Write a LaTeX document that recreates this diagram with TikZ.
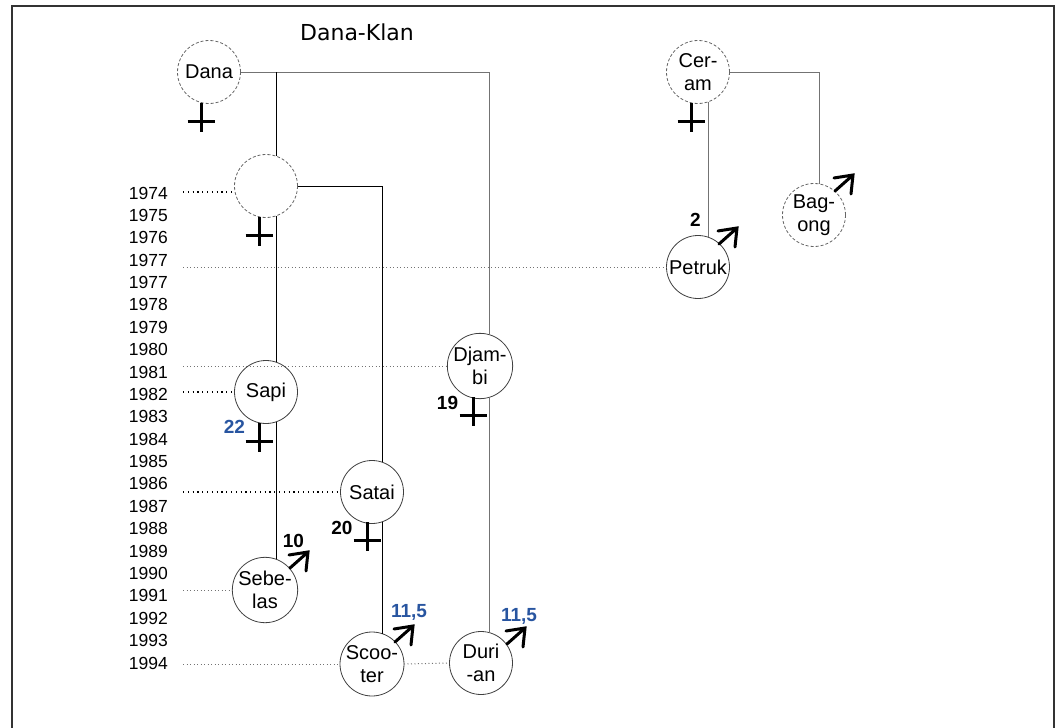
\documentclass[tikz,border=0pt]{standalone}
\usepackage{fontspec}
\setmainfont{Liberation Sans}
\newfontfamily\titlefont{DejaVu Sans}
\usetikzlibrary{calc}
\definecolor{numblue}{RGB}{40,85,160}
\newcommand\deadmark[2]{\draw[line width=3pt] (#1,#2) -- (#1,#2+29) (#1-13.5,#2+18) -- (#1+13.5,#2+18);}
\newcommand\malemark[2]{\draw[line width=3pt, line cap=round] (#1-18,#2+16) -- (#1,#2) (#1-19,#2+3) -- (#1,#2) -- (#1-2,#2+19);}
\begin{document}
\begin{tikzpicture}[x=1pt,y=-1pt,
  person/.style={circle, draw=black!75, line width=0.8pt, minimum size=63pt, inner sep=0pt, outer sep=0pt, align=center, font=\fontsize{20}{23}\selectfont},
  ghost/.style={person, draw=black!60, dash pattern=on 3pt off 2pt},
  year/.style={anchor=east, inner sep=0pt, font=\fontsize{17.5}{17.5}\selectfont},
  conn/.style={draw=black!55, line width=0.8pt},
  connb/.style={draw=black, line width=0.8pt},
  dotb/.style={draw=black, line width=1.2pt, dash pattern=on 1.2pt off 3.6pt},
  dotg/.style={draw=black!55, line width=1pt, dash pattern=on 1pt off 2.5pt},
  num/.style={anchor=base, inner sep=0pt, font=\fontsize{19}{19}\selectfont\bfseries},
]
\useasboundingbox (0,0) rectangle (1061,728);
\draw[line width=2pt, black!80] (12,730) -- (12,6) -- (1054,6) -- (1054,730);

\node[anchor=base, inner sep=0pt, font=\titlefont\fontsize{22}{22}\selectfont] (title) at (357,40) {Dana-Klan};

\foreach \yr [count=\i from 0] in {1974,1975,1976,1977,1977,1978,1979,1980,1981,1982,1983,1984,1985,1986,1987,1988,1989,1990,1991,1992,1993,1994}
  \node[year] (y\i) at (168,193+22.38*\i) {\yr};

% people
\node[ghost] (Dana) at (209,72) {Dana};
\node[ghost] (Anon) at (266,186) {};
\node[ghost] (Ceram) at (698,72) {Cer-\\am};
\node[ghost] (Bagong) at (814,215) {Bag-\\ong};
\node[person] (Petruk) at (698,267) {Petruk};
\node[person] (Sapi) at (266,392) {Sapi};
\node[person] (Djambi) at (480,366) {Djam-\\bi};
\node[person] (Satai) at (372,492) {Satai};
\node[person] (Sebelas) at (265,590) {Sebe-\\las};
\node[person] (Scooter) at (372,664) {Scoo-\\ter};
\node[person] (Durian) at (481,663) {Duri\\-an};

% connectors
\draw[conn] (Dana.east) -- (Dana.east -| Djambi.73) -- (Djambi.73);
\draw[conn] (Djambi.-73) -- (Djambi.-73 |- Durian.75);
\draw[connb] (Dana.east -| Anon.71) -- (Anon.71);
\draw[connb] (Anon.-71) -- (Anon.-71 |- Sapi.71);
\draw[connb] (Sapi.-71) -- (Sapi.-71 |- Sebelas.70);
\draw[connb] (Anon.east) -- (Anon.east -| Satai.70) -- (Satai.70);
\draw[connb] (Satai.-70) -- (Satai.-70 |- Scooter.70);
\draw[conn] (Ceram.-71) -- (Ceram.-71 |- Petruk.71);
\draw[conn] (Ceram.east) -- (Ceram.east -| Bagong.81) -- (Bagong.81);

% dotted year lines
\coordinate (L) at (183,0);
\coordinate (u74) at ([yshift=-6pt]Anon.west);
\draw[dotb] (L |- u74) -- (u74);
\draw[dotg] (L |- Petruk.west) -- (Petruk.west);
\draw[dotg] (L |- Djambi.west) -- (Djambi.west);
\draw[dotb] (L |- Sapi.west) -- (Sapi.west);
\draw[dotb] (L |- Satai.west) -- (Satai.west);
\draw[dotg] (L |- Sebelas.west) -- (Sebelas.west);
\draw[dotg] (L |- Scooter.west) -- (Scooter.west);
\draw[dotg] (Scooter.east) -- (Durian.west);

% death marks
\deadmark{201}{103}
\deadmark{259}{217}
\deadmark{259}{423}
\deadmark{473}{397}
\deadmark{367}{522}
\deadmark{691}{103}

% male marks
\malemark{308}{552}
\malemark{413}{626}
\malemark{525}{628}
\malemark{737}{228}
\malemark{853}{175}

% numbers
\node[num, text=numblue] (n22) at (234.5,433) {22};
\node[num] (n19) at (447.5,409) {19};
\node[num] (n20) at (342,534) {20};
\node[num] (n10) at (293.5,547) {10};
\node[num, text=numblue] (n115a) at (409,617) {11,5};
\node[num, text=numblue] (n115b) at (519,621) {11,5};
\node[num] (n2) at (695.5,226) {2};
\end{tikzpicture}
\end{document}
